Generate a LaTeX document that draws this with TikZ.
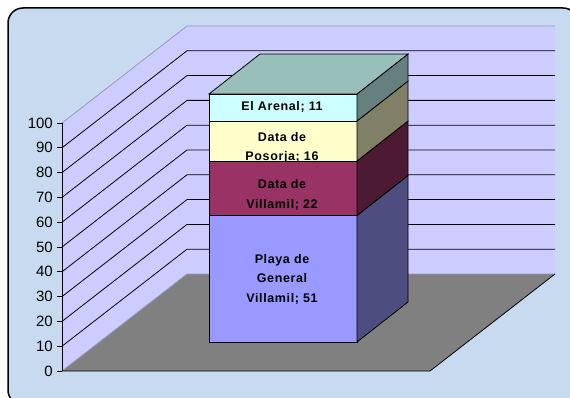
\documentclass[tikz,border=0pt]{standalone}
\usepackage{fontspec}
\setmainfont{Liberation Sans}
\newfontfamily\barfont[LetterSpace=5]{Liberation Sans}
\definecolor{paper}{RGB}{200,218,240}
\definecolor{wall}{HTML}{CCCCFF}
\definecolor{floor}{HTML}{808080}
\definecolor{rimgray}{HTML}{9999BB}
\definecolor{playa}{HTML}{9999FF}
\definecolor{playaside}{HTML}{4D4D80}
\definecolor{villa}{HTML}{993366}
\definecolor{villaside}{HTML}{4D1A33}
\definecolor{poso}{HTML}{FFFFCC}
\definecolor{pososide}{HTML}{808066}
\definecolor{arenal}{HTML}{CCFFFF}
\definecolor{arenalside}{HTML}{668080}
\definecolor{arenaltop}{HTML}{99BFBB}
\begin{document}
\begin{tikzpicture}[x=1pt, y=-1pt,
    grid/.style={black, line width=0.8pt},
    rim/.style={rimgray, line width=0.8pt},
    face/.style={draw=black, line width=0.8pt},
    val/.style={anchor=east, inner sep=0pt, font=\fontsize{15}{15}\selectfont},
    lbl/.style={align=center, inner sep=0pt, font=\barfont\bfseries\fontsize{12.5}{19.5}\selectfont}]
        \useasboundingbox (0,0) rectangle (570,398);
        \fill[white] (0,0) rectangle (570,398);
        \filldraw[fill=paper, draw=black, line width=1.5pt, rounded corners=15pt] (8,8) rectangle (578,405);

        % walls and floor
        \fill[wall] (62,123) -- (187,26) -- (555,26) -- (555,274) -- (187,274) -- (62,371) -- cycle;
        \fill[floor] (62,371) -- (187,274) -- (555,274) -- (430,371) -- cycle;
        \draw[rim] (62,123) -- (187,26) -- (555,26);
        \draw[rim] (62,371) -- (187,274) -- (555,274);

        \draw[grid] (62,346.2) -- (187,249.2) -- (555,249.2);
        \draw[grid] (62,321.4) -- (187,224.4) -- (555,224.4);
        \draw[grid] (62,296.6) -- (187,199.6) -- (555,199.6);
        \draw[grid] (62,271.8) -- (187,174.8) -- (555,174.8);
        \draw[grid] (62,247.0) -- (187,150.0) -- (555,150.0);
        \draw[grid] (62,222.2) -- (187,125.2) -- (555,125.2);
        \draw[grid] (62,197.4) -- (187,100.4) -- (555,100.4);
        \draw[grid] (62,172.6) -- (187, 75.6) -- (555, 75.6);
        \draw[grid] (62,147.8) -- (187, 50.8) -- (555, 50.8);

        \draw[grid] (62,371) -- (430,371) -- (555,274);
        \draw[grid] (62,123) -- (62,371);

        % value axis
        \node[val] (v0)   at (53,371.0) {0};
        \node[val] (v10)  at (53,346.2) {10};
        \node[val] (v20)  at (53,321.4) {20};
        \node[val] (v30)  at (53,296.6) {30};
        \node[val] (v40)  at (53,271.8) {40};
        \node[val] (v50)  at (53,247.0) {50};
        \node[val] (v60)  at (53,222.2) {60};
        \node[val] (v70)  at (53,197.4) {70};
        \node[val] (v80)  at (53,172.6) {80};
        \node[val] (v90)  at (53,147.8) {90};
        \node[val] (v100) at (53,123.0) {100};

        \draw[grid] (57,371.0) -- (62,371.0);
        \draw[grid] (57,346.2) -- (62,346.2);
        \draw[grid] (57,321.4) -- (62,321.4);
        \draw[grid] (57,296.6) -- (62,296.6);
        \draw[grid] (57,271.8) -- (62,271.8);
        \draw[grid] (57,247.0) -- (62,247.0);
        \draw[grid] (57,222.2) -- (62,222.2);
        \draw[grid] (57,197.4) -- (62,197.4);
        \draw[grid] (57,172.6) -- (62,172.6);
        \draw[grid] (57,147.8) -- (62,147.8);
        \draw[grid] (57,123.0) -- (62,123.0);

        % stacked bar, front faces
        \filldraw[face, fill=arenal] (209,94) rectangle (357,121);
        \node[lbl] (arenal) at (282,107) {El Arenal; 11};
        \filldraw[face, fill=poso] (209,121) rectangle (357,161);
        \node[lbl] (poso) at (282,148) {Data de\\Posorja; 16};
        \filldraw[face, fill=villa] (209,161) rectangle (357,215.5);
        \node[lbl] (villa) at (282,195) {Data de\\Villamil; 22};
        \filldraw[face, fill=playa] (209,215.5) rectangle (357,342);
        \node[lbl] (playa) at (282,279) {Playa de\\General\\Villamil; 51};

        % side and top faces
        \filldraw[face, fill=playaside] (357,342) -- (408,302) -- (408,175.5) -- (357,215.5) -- cycle;
        \filldraw[face, fill=villaside] (357,215.5) -- (408,175.5) -- (408,121) -- (357,161) -- cycle;
        \filldraw[face, fill=pososide] (357,161) -- (408,121) -- (408,81) -- (357,121) -- cycle;
        \filldraw[face, fill=arenalside] (357,121) -- (408,81) -- (408,54) -- (357,94) -- cycle;
        \filldraw[face, fill=arenaltop] (209,94) -- (260,54) -- (408,54) -- (357,94) -- cycle;

\end{tikzpicture}
\end{document}
